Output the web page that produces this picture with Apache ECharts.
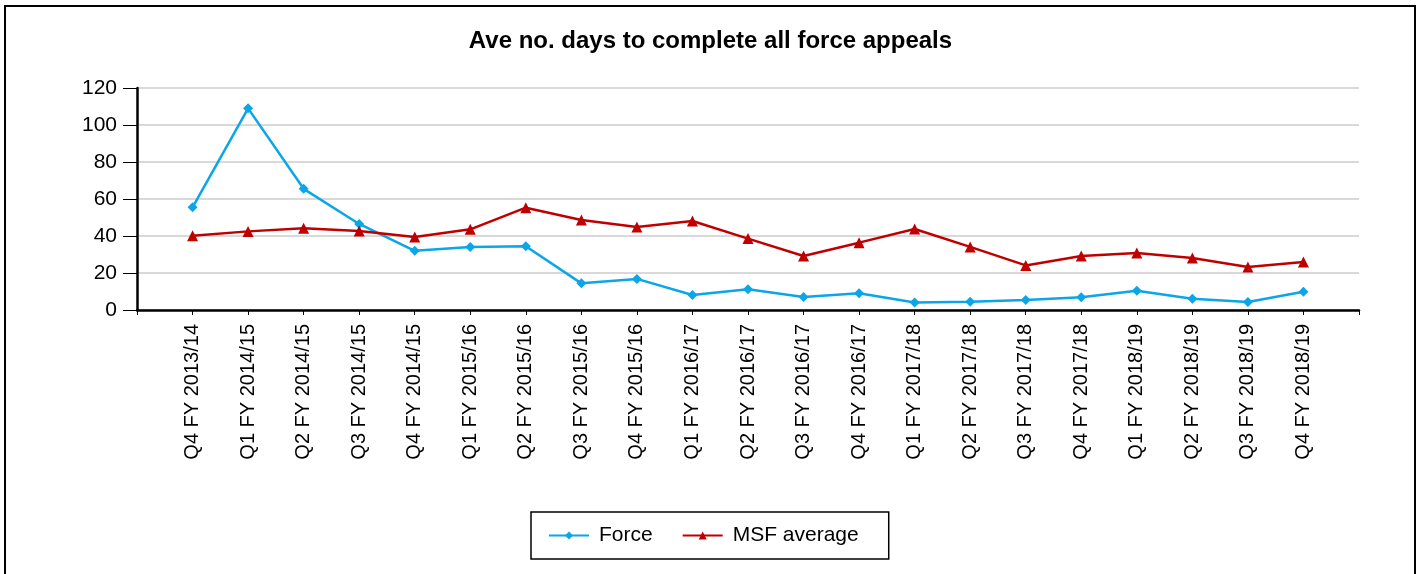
<!DOCTYPE html>
<html>
<head>
<meta charset="utf-8">
<script src="https://cdn.jsdelivr.net/npm/echarts@6/dist/echarts.min.js"></script>
<style>
html,body{margin:0;padding:0;background:#fff;}
#c{width:1421px;height:574px;}
</style>
</head>
<body>
<div id="c"></div>
<script>
var categories = ['Q4 FY 2013/14','Q1 FY 2014/15','Q2 FY 2014/15','Q3 FY 2014/15','Q4 FY 2014/15',
  'Q1 FY 2015/16','Q2 FY 2015/16','Q3 FY 2015/16','Q4 FY 2015/16',
  'Q1 FY 2016/17','Q2 FY 2016/17','Q3 FY 2016/17','Q4 FY 2016/17',
  'Q1 FY 2017/18','Q2 FY 2017/18','Q3 FY 2017/18','Q4 FY 2017/18',
  'Q1 FY 2018/19','Q2 FY 2018/19','Q3 FY 2018/19','Q4 FY 2018/19'];
var force = [55.5, 109, 65.5, 46.5, 32, 34, 34.5, 14.4, 16.8, 8.1, 11.2, 7.0, 9.0, 4.0, 4.5, 5.4, 6.9, 10.4, 6.1, 4.3, 9.9];
var msfAverage = [40.2, 42.5, 44.2, 42.7, 39.5, 43.6, 55.3, 48.6, 44.9, 48.1, 38.6, 29.2, 36.4, 43.8, 34.1, 24.1, 29.2, 30.8, 28.1, 23.2, 25.9];
var yTicks = [0, 20, 40, 60, 80, 100, 120];

// pad with blank slots at both ends so points sit on tick marks as in the reference
var xData = [''].concat(categories, ['']);
var forceData = [null].concat(force, [null]);
var msfData = [null].concat(msfAverage, [null]);

var FONT = 'Liberation Sans, Arial, sans-serif';
var chart = echarts.init(document.getElementById('c'));
chart.setOption({
  animation: false,
  backgroundColor: '#fff',
  textStyle: {fontFamily: FONT},
  title: {
    text: 'Ave no. days to complete all force appeals',
    left: 'center', top: 24,
    textStyle: {fontSize: 24, fontWeight: 'bold', color: '#000', fontFamily: FONT}
  },
  graphic: [{
    type: 'rect', silent: true, z: 100,
    shape: {x: 5, y: 6, width: 1410, height: 600},
    style: {fill: 'none', stroke: '#000', lineWidth: 2}
  }],
  legend: {
    left: 531, top: 512,
    padding: [13, 30, 13, 17],
    itemGap: 29, itemWidth: 40, itemHeight: 10,
    borderColor: '#000', borderWidth: 1.5,
    textStyle: {fontSize: 21, color: '#000', fontFamily: FONT, padding: [0, 0, 0, 5]},
    data: ['Force', 'MSF average']
  },
  grid: {left: 137, right: 62, top: 88, bottom: 264, containLabel: false},
  xAxis: {
    type: 'category', data: xData, boundaryGap: false,
    axisLine: {lineStyle: {color: '#000', width: 2.5}},
    axisTick: {show: true, length: 5, lineStyle: {color: '#000', width: 1}},
    axisLabel: {rotate: 90, fontSize: 20, color: '#000', margin: 14, interval: 0},
    splitLine: {show: false}
  },
  yAxis: {
    type: 'value', min: yTicks[0], max: yTicks[yTicks.length - 1], interval: 20,
    axisLine: {show: true, lineStyle: {color: '#000', width: 2.5}},
    axisTick: {show: true, length: 14, lineStyle: {color: '#000', width: 1}},
    axisLabel: {fontSize: 21, color: '#000', margin: 20},
    splitLine: {lineStyle: {color: '#d9d9d9', width: 2}}
  },
  series: [{
    name: 'Force', type: 'line', data: forceData,
    symbol: 'diamond', symbolSize: 10,
    itemStyle: {color: '#0aa6e8'},
    lineStyle: {color: '#0aa6e8', width: 2.5}
  }, {
    name: 'MSF average', type: 'line', data: msfData,
    symbol: 'triangle', symbolSize: 11,
    itemStyle: {color: '#c00000'},
    lineStyle: {color: '#c00000', width: 2.5}
  }]
});
</script>
</body>
</html>
